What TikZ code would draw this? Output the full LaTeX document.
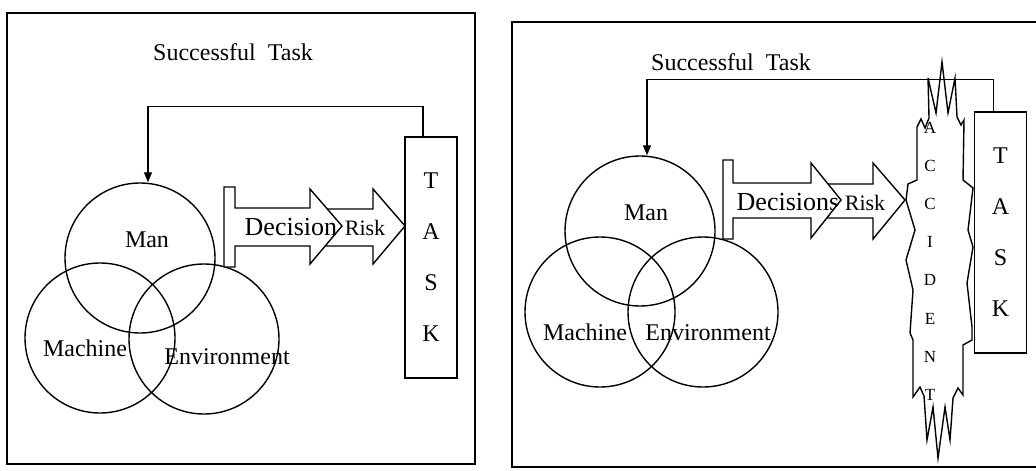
\documentclass[tikz,border=0pt]{standalone}
\usepackage{fontspec}
\setmainfont{Liberation Serif}
\usetikzlibrary{arrows.meta}

\begin{document}
\begin{tikzpicture}[x=0.5pt, y=-0.5pt, line width=0.7pt,
	venn/.style={circle, draw, minimum size=75pt, inner sep=0pt},
	lbl/.style={font=\fontsize{12}{14}\selectfont, inner sep=0pt},
	declbl/.style={font=\fontsize{13}{15}\selectfont, inner sep=0pt, anchor=west},
	risklbl/.style={font=\fontsize{11}{13}\selectfont, inner sep=0pt},
	acclbl/.style={font=\fontsize{8.5}{10}\selectfont, inner sep=0pt},
	taskbox/.style={draw, minimum width=26pt, minimum height=120.5pt, inner sep=0pt, align=center, font=\fontsize{12}{25.5}\selectfont},
	blockarrow/.style={draw, fill=white, line join=miter},
	back/.style={-{Triangle[length=5pt, width=4pt]}}]
	\useasboundingbox (0,0) rectangle (1036,470);
	\draw (7,13) rectangle (475,464);
	\draw (1036,22) -- (512,22) -- (512,467) -- (1036,467);
	% successful task
	\node[lbl] (titleL) at (233,52) {Successful\ \ Task};
	\node[venn] (manL) at (140,258) {};
	\node[venn] (machL) at (100,338) {};
	\node[venn] (envL) at (204,339) {};
	\node[lbl] (manLtxt) at (147,240) {Man};
	\node[lbl] (machLtxt) at (85,348) {Machine};
	\node[lbl] (envLtxt) at (227,357) {Environment};
	\node[taskbox] (taskL) at (431,257.5) {T\\A\\S\\K};
	\draw[back] ([xshift=-4pt]taskL.north) -- ++(0,-30) -| ([xshift=4pt]manL.north);
	\draw[blockarrow] (320,209) -- (373,209) -- (373,189) -- (405,226) -- (373,264) -- (373,246) -- (320,246) -- cycle;
	\draw[blockarrow] (224,187) -- (235,187) -- (235,208) -- (310,208) -- (310,189) -- (342,226) -- (310,264) -- (310,246) -- (235,246) -- (235,267) -- (224,267) -- cycle;
	\begin{scope}
		\clip (224,187) -- (235,187) -- (235,208) -- (310,208) -- (310,189) -- (342,226) -- (310,264) -- (310,246) -- (235,246) -- (235,267) -- (224,267) -- cycle;
		\node[declbl] (decL) at (244,227) {Decision};
	\end{scope}
	\node[risklbl] (riskL) at (365,228) {Risk};
	% accident
	\node[lbl] (titleR) at (731,62) {Successful\ \ Task};
	\node[venn] (manR) at (640,231) {};
	\node[venn] (machR) at (600,312) {};
	\node[venn] (envR) at (703,312) {};
	\node[lbl] (manRtxt) at (646,213) {Man};
	\node[lbl] (machRtxt) at (585,332) {Machine};
	\node[lbl] (envRtxt) at (708,333) {Environment};
	\node[taskbox] (taskR) at (1000.5,232.5) {T\\A\\S\\K};
	\draw[back] ([xshift=-3.5pt]taskR.north) -- ++(0,-32) -| ([xshift=3.5pt]manR.north);
	\draw[blockarrow] (825,184) -- (873,184) -- (873,163) -- (905,200) -- (873,239) -- (873,218) -- (825,218) -- cycle;
	\draw[blockarrow] (723,160) -- (733,160) -- (733,183) -- (811,183) -- (811,163) -- (841,200) -- (811,238) -- (811,218) -- (733,218) -- (733,239) -- (723,239) -- cycle;
	\begin{scope}
		\clip (723,160) -- (733,160) -- (733,183) -- (811,183) -- (811,163) -- (841,200) -- (811,238) -- (811,218) -- (733,218) -- (733,239) -- (723,239) -- cycle;
		\node[declbl] (decR) at (736,202) {Decisions};
	\end{scope}
	\node[risklbl] (riskR) at (865,203) {Risk};
	\draw[line join=miter] (917,180) -- (917,127) -- (921,119) -- (925,128) -- (929,118) -- (928,78) -- (936,113) -- (942,62)
		-- (948,113) -- (955,78) -- (957,117) -- (961,125) -- (964,120) -- (963,180) -- (973,188) -- (968,230)
		-- (973,247) -- (967,283) -- (972,327) -- (972,340) -- (963,345) -- (963,395) -- (958,388) -- (953,398)
		-- (950,440) -- (945,407) -- (938,458) -- (933,407) -- (927,440) -- (924,396) -- (920,387) -- (913,397)
		-- (913,340) -- (910,333) -- (913,290) -- (906,260) -- (915,230) -- (906,200) -- (908,184) -- cycle;
	\foreach \c [count=\i from 0] in {A,C,C,I,D,E,N,T}
		\node[acclbl] (acc\i) at (930,128+38.1*\i) {\c};
\end{tikzpicture}
\end{document}
